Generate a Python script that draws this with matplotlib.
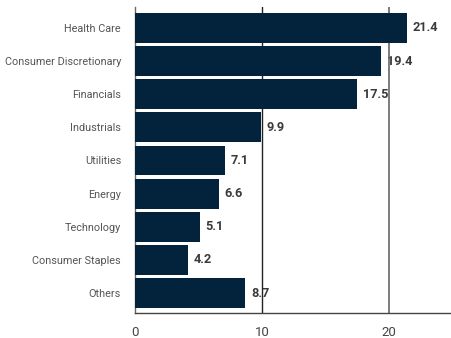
import matplotlib
matplotlib.use("Agg")
import matplotlib.pyplot as plt

categories = ["Health Care", "Consumer Discretionary", "Financials", "Industrials",
              "Utilities", "Energy", "Technology", "Consumer Staples", "Others"]
values = [21.4, 19.4, 17.5, 9.9, 7.1, 6.6, 5.1, 4.2, 8.7]
xticks = [0, 10, 20]

plt.rcParams['font.family'] = ['Roboto', 'DejaVu Sans']

fig = plt.figure(figsize=(4.51, 3.38), dpi=100)
ax = fig.add_axes([135/451, 25/338, 1 - 135/451, 306/338])

pos = list(range(len(categories)))
ax.barh(pos, values, height=0.9, color="#03233d", zorder=3)
for p, v in zip(pos, values):
    ax.text(v + 0.45, p, f"{v:.1f}", va="center", ha="left", fontsize=9.2,
            fontweight="bold", color="#3a3a3a", zorder=2)

ax.axvline(10, color="#222222", lw=1.0, zorder=2.5)
ax.axvline(20, color="#666666", lw=1.2, zorder=2.5)

ax.set_xlim(0, 24.9)
ax.set_ylim(len(categories) - 1 + 0.6, -0.63)
ax.set_yticks(pos)
ax.set_yticklabels(categories, fontsize=7.8, color="#555555")
ax.set_xticks(xticks)
ax.set_xticklabels([str(t) for t in xticks], fontsize=9.5, color="#444444")
ax.tick_params(axis="both", length=0)
ax.tick_params(axis="x", pad=9)
ax.tick_params(axis="y", pad=10)
for s in ["top", "right"]:
    ax.spines[s].set_visible(False)
ax.spines["left"].set_color("#666666")
ax.spines["bottom"].set_color("#444444")
ax.spines["left"].set_linewidth(1.0)
ax.spines["bottom"].set_linewidth(1.0)

fig.savefig("out.png", dpi=100)
